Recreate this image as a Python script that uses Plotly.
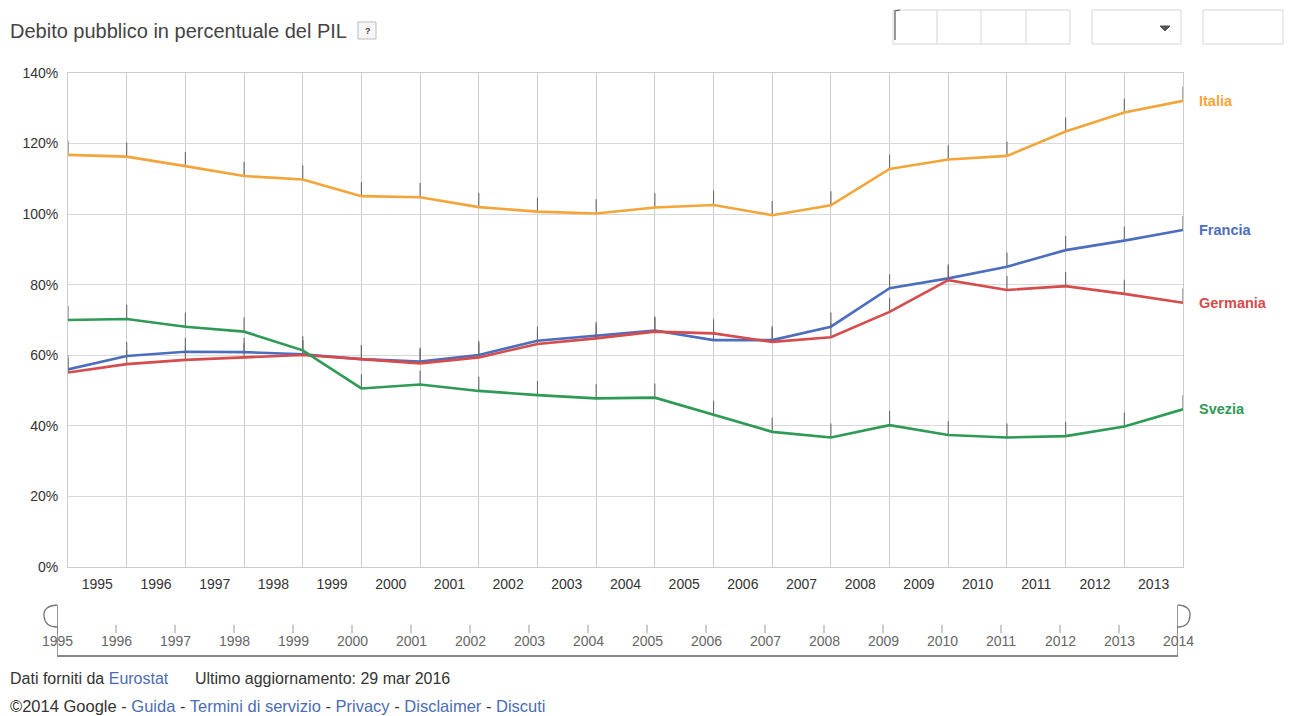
import plotly.graph_objects as go

years = list(range(1995, 2015))
label_years = [str(y) for y in range(1995, 2014)]
slider_years = [str(y) for y in range(1995, 2015)]

italia = [116.8, 116.3, 113.6, 110.8, 109.8, 105.1, 104.8, 102.0, 100.7, 100.2,
          101.9, 102.6, 99.7, 102.5, 112.8, 115.5, 116.5, 123.4, 128.8, 132.1]
francia = [56.0, 59.8, 61.0, 60.9, 60.3, 58.9, 58.2, 60.1, 64.1, 65.5,
           67.0, 64.3, 64.3, 68.1, 79.0, 81.8, 85.1, 89.8, 92.5, 95.5]
germania = [55.1, 57.5, 58.7, 59.4, 60.1, 58.9, 57.7, 59.4, 63.2, 64.8,
            66.7, 66.2, 63.8, 65.1, 72.3, 81.3, 78.5, 79.6, 77.4, 74.9]
svezia = [70.0, 70.3, 68.1, 66.7, 61.4, 50.6, 51.7, 49.9, 48.7, 47.8,
          48.0, 43.1, 38.3, 36.7, 40.2, 37.4, 36.7, 37.1, 39.8, 44.7]

series = [
    ("Italia", italia, "#f3a53a"),
    ("Francia", francia, "#4d6ebf"),
    ("Germania", germania, "#d64b4b"),
    ("Svezia", svezia, "#2f9a55"),
]

y_ticks = [0, 20, 40, 60, 80, 100, 120, 140]

# page body has an 8px margin: the figure starts at (8, 8) in the window
OFF = 8
W, H = 1293 - OFF, 716 - OFF
L, R, T, B = 40 - OFF, 100, 73 - OFF, 55
PW, PH = W - L - R, H - T - B
BOTTOM = 716 - B  # window pixel of the plot bottom


def fx(px):
    """window x pixel -> paper fraction"""
    return (px - (L + OFF)) / PW


def fy(py):
    """window y pixel -> paper fraction"""
    return (BOTTOM - py) / PH


FONT = "Arial, Liberation Sans, sans-serif"
LINK = "#4a6db3"

fig = go.Figure()

for name, vals, color in series:
    fig.add_trace(go.Scatter(
        x=years, y=vals, mode="lines", name=name,
        line=dict(color=color, width=2.6),
        error_y=dict(type="data", symmetric=False, array=[4] * len(vals),
                     arrayminus=[0] * len(vals), color="#6a6a6a",
                     thickness=1.1, width=0),
        xaxis="x", yaxis="y", showlegend=False, hoverinfo="x+y+name",
    ))
    fig.add_annotation(
        x=years[-1], y=vals[-1], xref="x", yref="y", text="<b>%s</b>" % name,
        showarrow=False, xanchor="left", yanchor="middle", xshift=14,
        font=dict(family=FONT, size=14.5, color=color),
    )

# slider tick marks
fig.add_trace(go.Scatter(
    x=years, y=[0.52] * len(years), mode="markers", xaxis="x2", yaxis="y2",
    marker=dict(symbol="line-ns-open", size=6, color="#999999",
                line=dict(width=1, color="#999999")),
    showlegend=False, hoverinfo="skip",
))

# slider labels
for yr in slider_years:
    fig.add_annotation(
        x=int(yr), y=fy(641), xref="x2", yref="paper", text=yr, showarrow=False,
        xanchor="center", yanchor="middle",
        font=dict(family=FONT, size=14, color="#666666"),
    )

fig.update_layout(
    width=W, height=H,
    margin=dict(l=L, r=R, t=T, b=B),
    paper_bgcolor="white", plot_bgcolor="white",
    font=dict(family=FONT, size=14, color="#333333"),
    xaxis=dict(
        domain=[fx(68), fx(1183)], range=[years[0], years[-1]],
        tickmode="array", tickvals=[int(y) + 0.5 for y in label_years], ticktext=label_years,
        showgrid=False, zeroline=False,
        ticks="outside", ticklen=4, tickcolor="rgba(0,0,0,0)",
        tickfont=dict(size=14, color="#333333"),
        showline=True, linecolor="#cccccc", linewidth=1, mirror=True,
        minor=dict(tickmode="array", tickvals=years, showgrid=True,
                   gridcolor="#cccccc", gridwidth=1, ticks=""),
        anchor="y", fixedrange=True,
    ),
    yaxis=dict(
        domain=[fy(567), 1], range=[0, 140],
        tickmode="array", tickvals=y_ticks, ticktext=["%d%%" % v for v in y_ticks],
        showgrid=True, gridcolor="#d9d9d9", gridwidth=1, zeroline=False,
        showline=True, linecolor="#cccccc", linewidth=1, mirror=True,
        ticks="outside", ticklen=6, tickcolor="rgba(0,0,0,0)",
        tickfont=dict(size=14, color="#333333"),
        anchor="x", fixedrange=True,
    ),
    xaxis2=dict(
        domain=[fx(57), fx(1178)], range=[years[0], years[-1]],
        showticklabels=False, showgrid=False, zeroline=False,
        showline=True, linecolor="#888888", linewidth=1.5, ticks="",
        anchor="y2", fixedrange=True,
    ),
    yaxis2=dict(
        domain=[fy(655), fy(605)], range=[0, 1],
        visible=False, anchor="x2", fixedrange=True,
    ),
)

shapes = []
# slider handles
shapes.append(dict(type="line", xref="x2", yref="paper", x0=years[0], x1=years[0],
                   y0=fy(655), y1=fy(605), line=dict(color="#777777", width=1.5)))
shapes.append(dict(type="line", xref="x2", yref="paper", x0=years[-1], x1=years[-1],
                   y0=fy(655), y1=fy(605), line=dict(color="#777777", width=1.5)))
shapes.append(dict(type="path", xref="paper", yref="paper",
                   path="M %f %f Q %f %f %f %f Q %f %f %f %f" % (
                       fx(57), fy(605), fx(43), fy(606), fx(44), fy(616),
                       fx(45), fy(627), fx(57), fy(627)),
                   line=dict(color="#777777", width=1.3)))
shapes.append(dict(type="path", xref="paper", yref="paper",
                   path="M %f %f Q %f %f %f %f Q %f %f %f %f" % (
                       fx(1178), fy(605), fx(1191), fy(606), fx(1190), fy(616),
                       fx(1189), fy(627), fx(1178), fy(627)),
                   line=dict(color="#777777", width=1.3)))


# top-right controls
def box(x0, x1, y0=10, y1=44):
    return dict(type="rect", xref="paper", yref="paper", x0=fx(x0), x1=fx(x1),
                y0=fy(y1), y1=fy(y0), line=dict(color="#d6d6d6", width=1), fillcolor="white")


shapes.append(box(893, 1070))
for xd in (937, 981, 1026):
    shapes.append(dict(type="line", xref="paper", yref="paper", x0=fx(xd), x1=fx(xd),
                       y0=fy(44), y1=fy(10), line=dict(color="#d6d6d6", width=1)))
shapes.append(dict(type="path", xref="paper", yref="paper",
                   path="M %f %f L %f %f L %f %f" % (fx(895), fy(40), fx(895), fy(11), fx(900), fy(10)),
                   line=dict(color="#555555", width=1.2)))
shapes.append(box(1092, 1181))
shapes.append(dict(type="path", xref="paper", yref="paper",
                   path="M %f %f L %f %f L %f %f Z" % (fx(1160), fy(26), fx(1170), fy(26), fx(1165), fy(31)),
                   fillcolor="#555555", line=dict(color="#555555", width=1)))
shapes.append(box(1203, 1283))
# "?" box
shapes.append(dict(type="rect", xref="paper", yref="paper", x0=fx(358), x1=fx(376),
                   y0=fy(39), y1=fy(22), line=dict(color="#bbbbbb", width=1), fillcolor="#f6f6f6"))

fig.update_layout(shapes=shapes)

annotations = [
    dict(x=fx(8), y=fy(31), text="Debito pubblico in percentuale del PIL",
         font=dict(size=20, color="#444444")),
    dict(x=fx(363), y=fy(31), text="<b>?</b>", font=dict(size=9, color="#444444")),
    dict(x=fx(8), y=fy(678),
         text="Dati forniti da <span style='color:%s'>Eurostat</span>" % LINK,
         font=dict(size=16, color="#333333")),
    dict(x=fx(193), y=fy(678), text="Ultimo aggiornamento: 29 mar 2016",
         font=dict(size=16, color="#333333")),
    dict(x=fx(8), y=fy(706),
         text=("©2014 Google - <span style='color:{c}'>Guida</span> - "
               "<span style='color:{c}'>Termini di servizio</span> - "
               "<span style='color:{c}'>Privacy</span> - "
               "<span style='color:{c}'>Disclaimer</span> - "
               "<span style='color:{c}'>Discuti</span>").format(c=LINK),
         font=dict(size=16.5, color="#333333")),
]
for a in annotations:
    fig.add_annotation(xref="paper", yref="paper", showarrow=False,
                       xanchor="left", yanchor="middle", **a)

fig.write_html("out.html")
